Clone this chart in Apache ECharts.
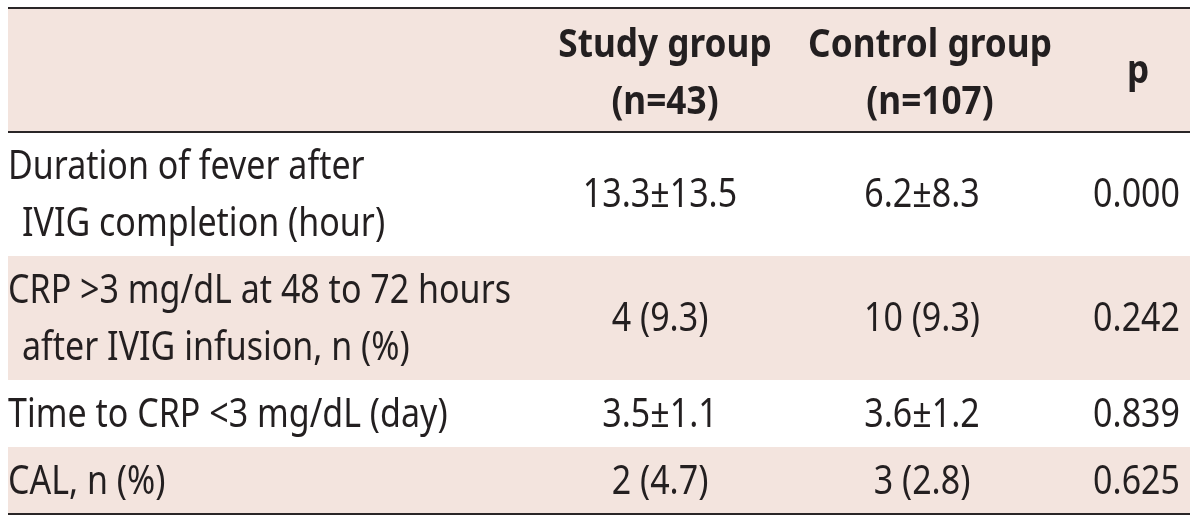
<!DOCTYPE html>
<html>
<head>
<meta charset="utf-8">
<script src="https://cdn.jsdelivr.net/npm/echarts@6/dist/echarts.min.js"></script>
<style>html,body{margin:0;padding:0;background:#fff;}#main{width:1200px;height:524px;}</style>
</head>
<body>
<div id="main"></div>
<script>
// ---- data ----
const headerStudy = ["Study group", "(n=43)"];
const headerControl = ["Control group", "(n=107)"];
const headerP = ["p"];
const rowLabels = [
  ["Duration of fever after", "IVIG completion (hour)"],
  ["CRP >3 mg/dL at 48 to 72 hours", "after IVIG infusion, n (%)"],
  ["Time to CRP <3 mg/dL (day)"],
  ["CAL, n (%)"]
];
const studyGroup = ["13.3\u00b113.5", "4 (9.3)", "3.5\u00b11.1", "2 (4.7)"];
const controlGroup = ["6.2\u00b18.3", "10 (9.3)", "3.6\u00b11.2", "3 (2.8)"];
const pValues = ["0.000", "0.242", "0.839", "0.625"];

// ---- layout (style) ----
const LINE_H = 57, PAD = 10;
const TEXT = '#231f20', SHADE = '#f3e4de', RULE = '#2a2627';
const FONT = 'Noto Sans';
const FS = 40, SCALE = 0.85, BSCALE = 0.88, BFS = 40;
const X_LABEL = 0, X_INDENT = 14, X_STUDY = 652, X_CONTROL = 914, X_P = 1172, X_END = 1182;

const rows = [{ kind: 'header', lines: 2 }].concat(rowLabels.map((l, i) => ({ kind: 'body', lines: l.length, idx: i })));
let acc = 0;
const data = rows.map((r, i) => {
  const h = r.lines * LINE_H + PAD;
  const item = { value: [0, acc, acc + h, i] };
  acc += h;
  return item;
});
const TOTAL = acc;

function txt(api, x, y, s, align, bold) {
  const p = api.coord([x, y]);
  return {
    type: 'text', x: p[0], y: p[1] + 2, scaleX: bold ? BSCALE : SCALE, scaleY: 1,
    style: { text: s, fill: TEXT, font: (bold ? 'bold ' + BFS : FS) + 'px "' + FONT + '"',
      textAlign: align, textVerticalAlign: 'middle' }
  };
}

function renderItem(params, api) {
  const top = api.value(1), bot = api.value(2), ri = api.value(3);
  const r = rows[ri];
  const children = [];
  const p0 = api.coord([0, top]), p1 = api.coord([X_END, bot]);
  if (ri % 2 === 0) {
    children.push({ type: 'rect', shape: { x: p0[0], y: p0[1], width: p1[0] - p0[0], height: p1[1] - p0[1] }, style: { fill: SHADE } });
  }
  const lineY = k => top + PAD / 2 + LINE_H * (k + 0.5);
  const mid = (top + bot) / 2;
  if (r.kind === 'header') {
    headerStudy.forEach((s, k) => children.push(txt(api, X_STUDY + 5, lineY(k) + 2, s, 'center', true)));
    headerControl.forEach((s, k) => children.push(txt(api, X_CONTROL + 8, lineY(k) + 2, s, 'center', true)));
    children.push(txt(api, X_P - 42, mid, headerP[0], 'center', true));
  } else {
    const i = r.idx;
    rowLabels[i].forEach((s, k) => children.push(txt(api, k === 0 ? X_LABEL : X_INDENT, lineY(k), s, 'left', false)));
    children.push(txt(api, X_STUDY, mid, studyGroup[i], 'center', false));
    children.push(txt(api, X_CONTROL, mid, controlGroup[i], 'center', false));
    children.push(txt(api, X_P, mid, pValues[i], 'right', false));
  }
  // rules
  const rule = (y, w) => { const a = api.coord([0, y]), b = api.coord([X_END, y]);
    return { type: 'line', shape: { x1: a[0], y1: a[1], x2: b[0], y2: b[1] }, style: { stroke: RULE, lineWidth: w } }; };
  if (ri === 0) { children.push(rule(top, 2)); children.push(rule(bot, 2)); }
  if (ri === rows.length - 1) children.push(rule(bot, 2));
  return { type: 'group', children };
}

const chart = echarts.init(document.getElementById('main'), null, { renderer: 'canvas' });
chart.setOption({
  animation: false,
  grid: { left: 8, right: 10, top: 8, bottom: 10 },
  xAxis: { type: 'value', min: 0, max: X_END, show: false },
  yAxis: { type: 'value', min: 0, max: TOTAL, inverse: true, show: false },
  series: [{ type: 'custom', renderItem, data, clip: false }]
});
</script>
</body>
</html>
